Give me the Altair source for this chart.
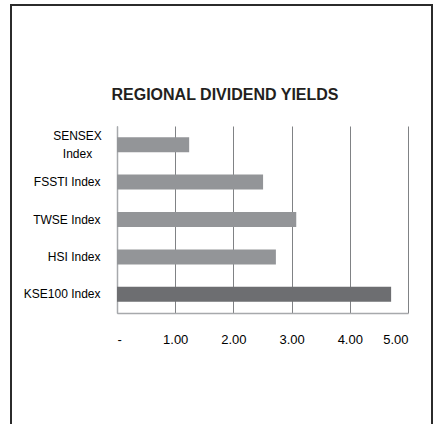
import altair as alt
import pandas as pd

indices = ["SENSEX Index", "FSSTI Index", "TWSE Index", "HSI Index", "KSE100 Index"]
yields = [1.24, 2.51, 3.08, 2.73, 4.71]
groups = ["peer", "peer", "peer", "peer", "home"]
title_text = ["REGIONAL DIVIDEND YIELDS"]

df = pd.DataFrame({"index": indices, "yield": yields, "group": groups})
tdf = pd.DataFrame({"t": title_text})

PL, PT = 117, 126
W, H = 291, 187

is_sensex = "datum.value == 'SENSEX Index'"

bars = alt.Chart(df).mark_bar(size=15).encode(
    y=alt.Y("index:N", sort=indices,
            axis=alt.Axis(title=None, ticks=False, tickSize=0, grid=False,
                          domainColor="#a7a9ac", domainWidth=1.5,
                          labelFont="Liberation Sans", labelFontSize=12,
                          labelColor="#000000",
                          labelPadding={"condition": {"test": is_sensex, "value": 40}, "value": 17},
                          labelAlign={"condition": {"test": is_sensex, "value": "center"}, "value": "right"},
                          labelLineHeight=18,
                          labelOffset={"condition": {"test": is_sensex, "value": -9}, "value": 0},
                          labelExpr="datum.label == 'SENSEX Index' ? ['SENSEX', 'Index'] : datum.label")),
    x=alt.X("yield:Q", scale=alt.Scale(domain=[0, 5], nice=False),
            axis=alt.Axis(title=None, values=[0, 1, 2, 3, 4, 5], ticks=False, tickSize=0,
                          grid=True, gridColor="#808285", gridWidth=1,
                          domainColor="#a7a9ac", domainWidth=1.5,
                          labelFont="Liberation Sans", labelFontSize=13,
                          labelColor="#000000", labelPadding=20,
                          labelExpr="datum.value == 0 ? '-' : format(datum.value, '.2f')")),
    color=alt.Color("group:N", scale=alt.Scale(domain=["peer", "home"], range=["#939598", "#6d6e71"]),
                    legend=None),
)

border = alt.Chart(df).mark_rect(fill=None, stroke="#2b2b2b", strokeWidth=2, clip=False).encode(
    x=alt.value(11 - PL), x2=alt.value(432 - PL),
    y=alt.value(5 - PT), y2=alt.value(440 - PT),
)

title = alt.Chart(tdf).mark_text(font="Liberation Sans", fontSize=16, fontWeight="bold",
                                 color="#231f20", align="center", baseline="alphabetic").encode(
    text="t:N",
    x=alt.value(225 - PL), y=alt.value(100 - PT),
)

chart = alt.layer(border, bars, title).properties(
    width=W, height=H,
    autosize=alt.AutoSizeParams(type="none"),
    padding={"left": PL, "top": PT, "right": 436 - PL - W, "bottom": 424 - PT - H},
).configure_view(stroke=None)

chart.save("out.html", embed_options={"renderer": "svg", "actions": False})
